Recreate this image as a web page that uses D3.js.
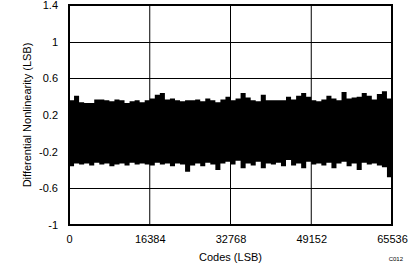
<!DOCTYPE html>
<html>
<head>
<meta charset="utf-8">
<script src="https://cdn.jsdelivr.net/npm/d3@7"></script>
<style>
  body { margin: 0; background: #fff; }
  text { font-family: "Liberation Sans", Arial, sans-serif; fill: #000; }
</style>
</head>
<body>
<script>
var svgWidth = 408;
var svgHeight = 266;

var margin = {top: 5, right: 16, bottom: 41, left: 69};
var chartWidth = svgWidth - margin.left - margin.right;
var chartHeight = svgHeight - margin.top - margin.bottom;

// tick values
var xTicks = [0, 16384, 32768, 49152, 65536];
var yTicks = [-1, -0.6, -0.2, 0.2, 0.6, 1, 1.4];

// DNL envelope, one max/min per block of 1024 codes
var dnlMax = [0.36, 0.41, 0.34, 0.33, 0.33, 0.37, 0.37, 0.36, 0.35, 0.37, 0.36, 0.33, 0.35, 0.36, 0.34, 0.36,
              0.38, 0.42, 0.44, 0.37, 0.38, 0.36, 0.35, 0.36, 0.36, 0.37, 0.35, 0.38, 0.36, 0.34, 0.37, 0.40,
              0.36, 0.38, 0.44, 0.39, 0.36, 0.35, 0.42, 0.36, 0.36, 0.36, 0.36, 0.40, 0.37, 0.41, 0.44, 0.40,
              0.36, 0.35, 0.37, 0.41, 0.38, 0.36, 0.45, 0.38, 0.39, 0.40, 0.44, 0.41, 0.37, 0.43, 0.46, 0.38];
var dnlMin = [-0.36, -0.33, -0.34, -0.33, -0.35, -0.32, -0.34, -0.33, -0.36, -0.34, -0.33, -0.35, -0.32, -0.34, -0.33, -0.34,
              -0.35, -0.32, -0.34, -0.33, -0.36, -0.33, -0.34, -0.42, -0.35, -0.33, -0.36, -0.32, -0.34, -0.40, -0.33, -0.31,
              -0.34, -0.30, -0.38, -0.33, -0.35, -0.31, -0.38, -0.33, -0.34, -0.32, -0.36, -0.29, -0.35, -0.33, -0.38, -0.31,
              -0.34, -0.33, -0.35, -0.32, -0.38, -0.33, -0.31, -0.36, -0.33, -0.40, -0.32, -0.34, -0.33, -0.35, -0.37, -0.48];

var blocks = dnlMax.map((d, i) => ({code: i * 1024, hi: d, lo: dnlMin[i]}));
blocks.push({code: 65536, hi: dnlMax[63], lo: dnlMin[63]});

var svg = d3.select('body').append('svg')
    .attr('width', svgWidth)
    .attr('height', svgHeight);

var chartGroup = svg.append('g')
    .attr('transform', `translate(${margin.left}, ${margin.top})`);

var xScale = d3.scaleLinear().domain([0, 65536]).range([0, chartWidth]);
var yScale = d3.scaleLinear().domain([-1, 1.4]).range([chartHeight, 0]);

// grid
chartGroup.selectAll('.vgrid')
    .data(xTicks.slice(1, -1))
    .enter().append('line')
    .attr('x1', d => xScale(d)).attr('x2', d => xScale(d))
    .attr('y1', 0).attr('y2', chartHeight)
    .attr('stroke', '#000').attr('stroke-width', 1);

chartGroup.selectAll('.hgrid')
    .data(yTicks.slice(1, -1))
    .enter().append('line')
    .attr('x1', 0).attr('x2', chartWidth)
    .attr('y1', d => Math.round(yScale(d)) + 0.5).attr('y2', d => Math.round(yScale(d)) + 0.5)
    .attr('stroke', '#000').attr('stroke-width', 1);

// dnl band
var area = d3.area()
    .x(d => xScale(d.code))
    .y0(d => yScale(d.lo))
    .y1(d => yScale(d.hi))
    .curve(d3.curveStepAfter);

chartGroup.append('path')
    .datum(blocks)
    .attr('d', area)
    .attr('fill', '#000');

// frame
chartGroup.append('rect')
    .attr('x', 0).attr('y', 0)
    .attr('width', chartWidth).attr('height', chartHeight)
    .attr('fill', 'none').attr('stroke', '#000').attr('stroke-width', 2);

// axes (labels only)
var xAxis = chartGroup.append('g')
    .attr('transform', `translate(0,${chartHeight})`)
    .call(d3.axisBottom(xScale).tickValues(xTicks).tickFormat(d3.format('d')).tickSize(0).tickPadding(10));
var yAxis = chartGroup.append('g')
    .call(d3.axisLeft(yScale).tickValues(yTicks).tickFormat(d => d).tickSize(0).tickPadding(11));
[xAxis, yAxis].forEach(a => {
    a.select('.domain').remove();
    a.selectAll('text').attr('font-size', 11).attr('font-family', '"Liberation Sans", Arial, sans-serif');
});

svg.append('text')
    .attr('x', margin.left + chartWidth / 2)
    .attr('y', 261)
    .attr('text-anchor', 'middle')
    .attr('font-size', 11)
    .text('Codes (LSB)');

svg.append('text')
    .attr('transform', `translate(31, ${margin.top + chartHeight / 2}) rotate(-90)`)
    .attr('text-anchor', 'middle')
    .attr('font-size', 11)
    .text('Differential Nonlinearity (LSB)');

svg.append('text')
    .attr('x', 403)
    .attr('y', 261)
    .attr('text-anchor', 'end')
    .attr('font-size', 6)
    .text('C012');
</script>
</body>
</html>
